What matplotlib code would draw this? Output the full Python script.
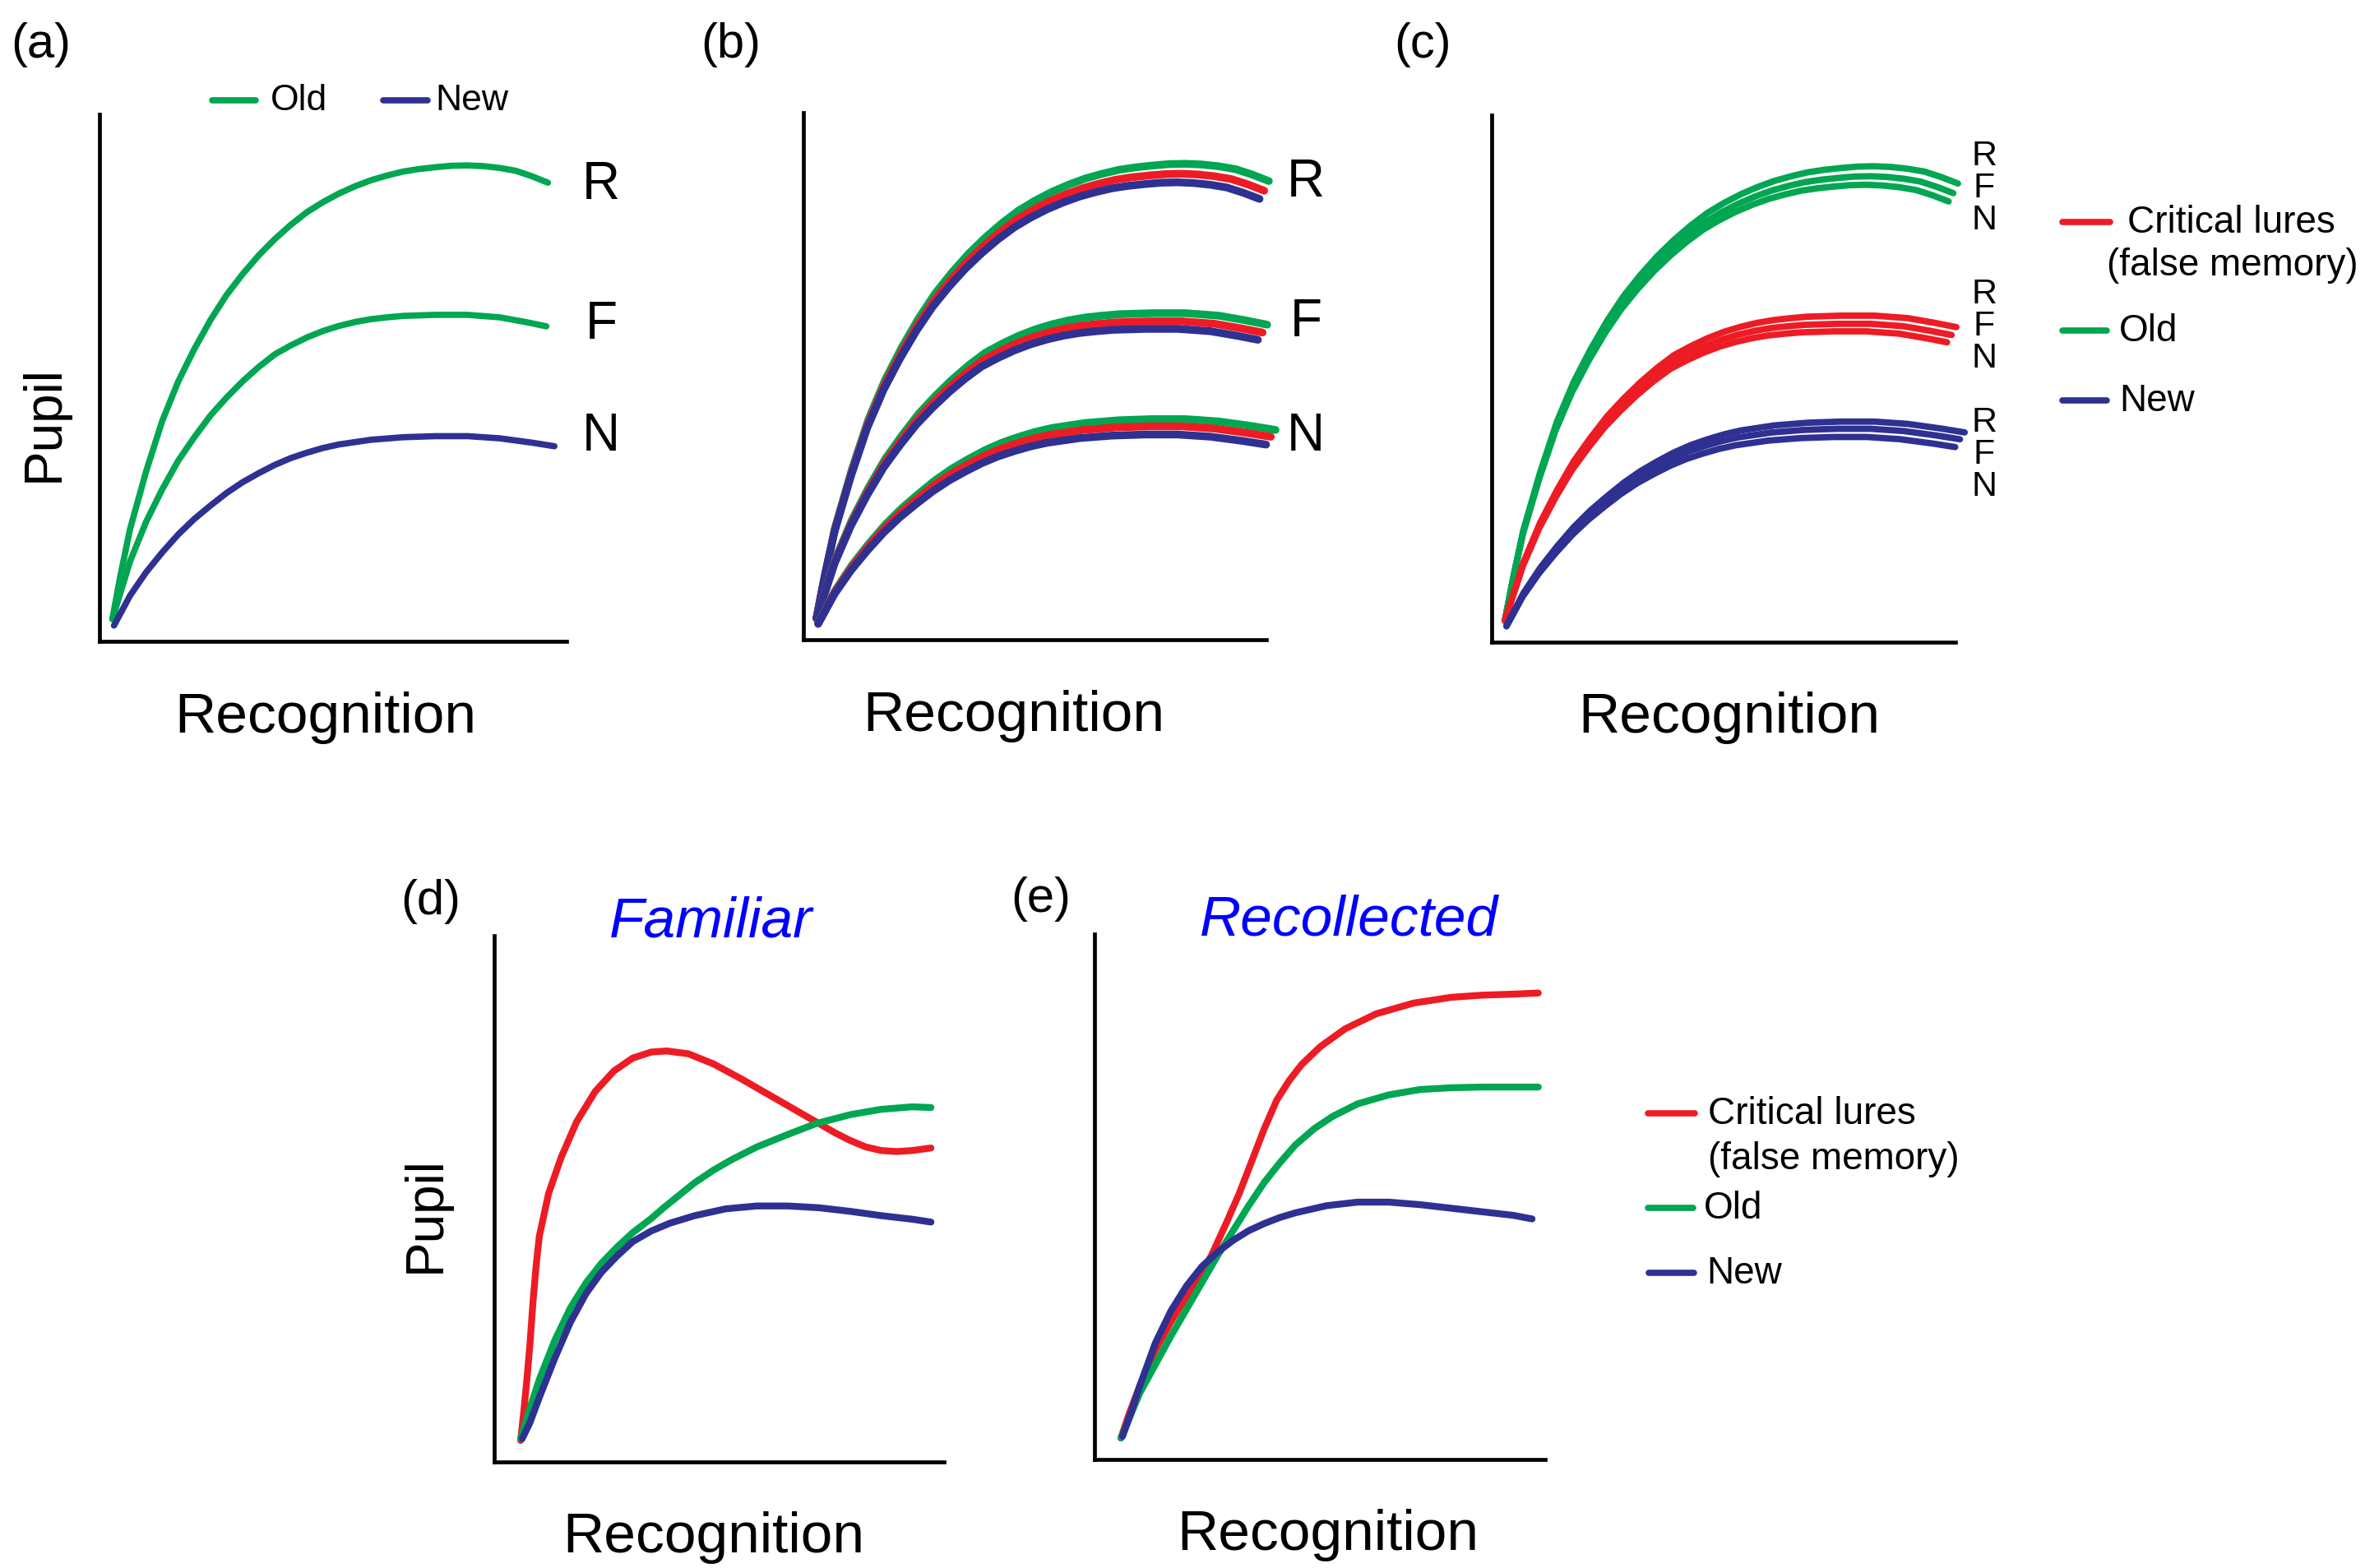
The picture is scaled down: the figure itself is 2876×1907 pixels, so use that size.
import matplotlib.pyplot as plt
from matplotlib.lines import Line2D

plt.rcParams['font.family'] = ['Liberation Sans', 'DejaVu Sans']

W, H = 2876, 1908
GREEN = '#00A651'
RED = '#ED1C24'
BLUE = '#2E3192'

# ---- base curve shapes (recognition 0-100, pupil 0-100)
r_x = [2.75, 4.47, 6.54, 9.98, 13.42, 16.86, 20.3, 23.74, 27.19, 30.63, 34.07, 37.51,
       40.95, 44.39, 47.83, 51.27, 54.71, 58.15, 61.6, 65.04, 68.48, 71.92, 75.36,
       78.8, 82.24, 85.68, 89.12, 92.57, 96.01]
r_y = [4.23, 12.43, 21.31, 32.24, 41.8, 49.32, 55.46, 60.93, 65.71, 69.67, 73.22, 76.3,
       79.03, 81.42, 83.33, 84.97, 86.34, 87.5, 88.39, 89.14, 89.62, 89.96, 90.23,
       90.3, 90.16, 89.82, 89.28, 88.25, 87.02]
f_x = [2.75, 6.54, 9.98, 13.42, 16.86, 20.3, 23.74, 27.19, 30.63, 34.07, 37.51, 40.95,
       44.39, 47.83, 51.27, 54.71, 58.15, 61.6, 65.04, 71.92, 78.8, 85.68, 91.19, 95.67]
f_y = [4.23, 15.16, 22.68, 28.83, 34.29, 38.73, 42.83, 46.24, 49.32, 52.05, 54.44, 56.15,
       57.65, 58.88, 59.84, 60.59, 61.13, 61.48, 61.75, 61.95, 61.95, 61.48, 60.59, 59.77]
n_x = [3.1, 6.54, 9.98, 13.42, 16.86, 20.3, 23.74, 27.19, 30.63, 34.07, 37.51, 40.95,
       44.39, 47.83, 51.27, 58.15, 65.04, 71.92, 78.8, 85.68, 92.57, 97.39]
n_y = [3.0, 8.67, 13.11, 16.87, 20.29, 23.22, 25.75, 28.14, 30.19, 31.9, 33.47, 34.77,
       35.79, 36.68, 37.36, 38.25, 38.73, 38.93, 38.93, 38.52, 37.7, 37.02]

# ---- panels (b) and (c): three near-identical copies per group
# order inside a group: top, middle, bottom line
copy_x_scale = [1.0, 0.99, 0.98]
r_group_scale = [1.0, 0.979, 0.961]
f_group_scale = [1.0, 0.975, 0.952]
n_group_scale = [1.075, 1.04, 1.0]

# ---- panel (d) Familiar
d_lure_x = [5.87, 6.57, 7.26, 7.95, 8.64, 9.33, 10.02, 12.09, 14.86, 18.31, 22.46, 26.61,
            30.75, 34.9, 38.36, 43.19, 48.72, 54.94, 61.85, 68.76, 72.22, 75.67, 79.13,
            82.58, 86.04, 89.5, 92.95, 97.1]
d_lure_y = [4.08, 9.52, 15.65, 22.45, 30.61, 37.41, 42.86, 51.02, 57.82, 64.63, 70.41,
            74.29, 76.73, 77.89, 78.1, 77.55, 75.65, 72.79, 69.39, 65.99, 64.29, 62.59,
            61.09, 59.86, 59.18, 58.98, 59.18, 59.66]
d_old_x = [5.87, 7.95, 10.02, 13.48, 16.93, 20.39, 23.84, 27.3, 30.75, 34.9, 37.66, 41.12,
           44.57, 48.72, 52.87, 58.4, 65.31, 71.53, 79.13, 86.04, 92.95, 97.1]
d_old_y = [4.42, 10.2, 15.65, 23.13, 29.25, 34.01, 37.76, 40.82, 43.54, 46.26, 48.3, 50.68,
           53.06, 55.44, 57.48, 59.86, 62.24, 64.29, 65.99, 67.01, 67.48, 67.35]
d_new_x = [6.22, 7.95, 10.02, 13.48, 16.93, 20.39, 23.84, 27.3, 30.75, 34.9, 39.05, 44.57,
           51.49, 58.4, 65.31, 72.22, 79.13, 86.04, 92.95, 97.1]
d_new_y = [4.42, 7.48, 12.24, 19.73, 26.53, 31.97, 36.05, 39.12, 41.84, 43.88, 45.37, 46.8,
           48.1, 48.64, 48.64, 48.3, 47.62, 46.8, 46.12, 45.58]

# ---- panel (e) Recollected
e_lure_x = [5.87, 7.6, 10.02, 13.48, 16.93, 20.39, 23.84, 25.92, 29.37, 32.14, 34.9, 37.66,
            40.43, 43.19, 45.96, 50.1, 55.63, 62.54, 70.84, 79.13, 86.04, 92.95, 98.48]
e_lure_y = [4.08, 8.5, 13.95, 20.75, 26.19, 30.95, 35.71, 38.78, 45.24, 50.68, 56.8, 62.93,
            68.37, 72.11, 75.17, 78.57, 81.97, 84.83, 86.87, 87.96, 88.37, 88.57, 88.78]
e_old_x = [5.87, 10.02, 13.48, 16.93, 20.39, 23.84, 27.3, 30.75, 34.21, 37.66, 41.12, 44.57,
           48.72, 52.87, 58.4, 65.31, 72.22, 79.13, 86.04, 98.48]
e_old_y = [4.08, 12.59, 18.03, 23.47, 28.57, 33.67, 38.78, 43.54, 48.3, 52.72, 56.46, 59.86,
           62.93, 65.31, 67.69, 69.39, 70.41, 70.75, 70.88, 70.88]
e_new_x = [6.22, 7.95, 10.02, 13.48, 16.93, 20.39, 23.84, 27.3, 30.75, 34.21, 37.66, 41.12,
           44.57, 51.49, 58.4, 65.31, 72.22, 79.13, 86.04, 92.95, 97.1]
e_new_y = [4.42, 8.5, 13.95, 22.11, 28.23, 32.99, 36.73, 39.46, 41.7, 43.54, 44.9, 46.05,
           46.94, 48.3, 48.98, 48.98, 48.5, 47.82, 47.14, 46.46, 45.78]

LW = 6.0
AXLW = 3.4

fig = plt.figure(figsize=(W / 100, H / 100), dpi=100)


def px_axes(left, top, right, bottom, xmax=100):
    ax = fig.add_axes([left / W, 1 - bottom / H, (right - left) / W, (bottom - top) / H])
    ax.set_xlim(0, xmax)
    ax.set_ylim(0, 100)
    for s in ['top', 'right']:
        ax.spines[s].set_visible(False)
    for s in ['left', 'bottom']:
        ax.spines[s].set_linewidth(AXLW)
        ax.spines[s].set_capstyle('projecting')
    ax.set_xticks([])
    ax.set_yticks([])
    ax.patch.set_alpha(0)
    return ax


def curve(ax, x, y, color, lw=LW):
    ax.plot(x, y, color=color, lw=lw, solid_capstyle='round',
            solid_joinstyle='round', clip_on=False)


def ftext(px, py, s, **kw):
    fig.text(px / W, 1 - py / H, s, **kw)


def legend_line(x0, x1, py, color):
    fig.add_artist(Line2D([x0 / W, x1 / W], [1 - py / H] * 2, color=color, lw=5.5,
                          solid_capstyle='round', transform=fig.transFigure))


# panel (a)
ax_a = px_axes(121, 140, 689, 781)
curve(ax_a, r_x, r_y, GREEN, lw=5.5)
curve(ax_a, f_x, f_y, GREEN, lw=5.5)
curve(ax_a, n_x, n_y, BLUE, lw=5.5)

# panel (b)
ax_b = px_axes(977, 138, 1540, 779, xmax=95.5)
for shape_x, shape_y, scales in [(r_x, r_y, r_group_scale), (f_x, f_y, f_group_scale),
                                 (n_x, n_y, n_group_scale)]:
    for xs, ys, col in zip(copy_x_scale, scales, [GREEN, RED, BLUE]):
        curve(ax_b, [v * xs for v in shape_x], [v * ys for v in shape_y], col, lw=6.8)

# panel (c)
ax_c = px_axes(1814, 141, 2378, 782, xmax=95.5)
for shape_x, shape_y, scales, col in [(r_x, r_y, r_group_scale, GREEN),
                                      (f_x, f_y, f_group_scale, RED),
                                      (n_x, n_y, n_group_scale, BLUE)]:
    for xs, ys in zip(copy_x_scale, scales):
        curve(ax_c, [v * xs for v in shape_x], [v * ys for v in shape_y], col, lw=5.6)

# panel (d)
ax_d = px_axes(601, 1139, 1148, 1779)
curve(ax_d, d_lure_x, d_lure_y, RED)
curve(ax_d, d_old_x, d_old_y, GREEN)
curve(ax_d, d_new_x, d_new_y, BLUE)

# panel (e)
ax_e = px_axes(1331, 1137, 1879, 1776)
curve(ax_e, e_lure_x, e_lure_y, RED)
curve(ax_e, e_old_x, e_old_y, GREEN)
curve(ax_e, e_new_x, e_new_y, BLUE)

# panel letters
for px, py, s in [(50, 55, '(a)'), (889, 55, '(b)'), (1730, 55, '(c)'),
                  (524, 1096, '(d)'), (1266, 1094, '(e)')]:
    ftext(px, py, s, fontsize=43, ha='center', va='center')

# axis titles
for px, py in [(396, 891), (1233, 889), (2103, 891), (868, 1888), (1615, 1885)]:
    ftext(px, py, 'Recognition', fontsize=50, ha='center', va='baseline')
for px, py in [(54, 515), (518, 1477)]:
    ftext(px, py, 'Pupil', fontsize=46, ha='center', va='center', rotation=90)

ftext(864, 1139, 'Familiar', fontsize=50, style='italic', color='#0000FF',
      ha='center', va='baseline')
ftext(1640, 1137, 'Recollected', fontsize=50, style='italic', color='#0000FF',
      ha='center', va='baseline')

# R / F / N labels
for px, ys in [(731, [225, 395, 531]), (1588, [222, 392, 531])]:
    for py, s in zip(ys, 'RFN'):
        ftext(px, py, s, fontsize=46, ha='center', va='center')
for py0 in [190, 358, 514]:
    for k, s in enumerate('RFN'):
        ftext(2413, py0 + k * 39, s, fontsize=31, ha='center', va='center')

# legend (a)
legend_line(258, 311, 123, GREEN)
ftext(329, 123, 'Old', fontsize=32, va='center')
legend_line(466, 520, 123, BLUE)
ftext(529, 123, 'New', fontsize=32, va='center')

# legend (c)
legend_line(2508, 2566, 271, RED)
ftext(2587, 271, 'Critical lures', fontsize=33, va='center')
ftext(2562, 323, '(false memory)', fontsize=33, va='center')
legend_line(2508, 2562, 403, GREEN)
ftext(2577, 403, 'Old', fontsize=33, va='center')
legend_line(2508, 2562, 488, BLUE)
ftext(2577, 488, 'New', fontsize=33, va='center')

# legend (e)
legend_line(2004, 2061, 1355, RED)
ftext(2077, 1355, 'Critical lures', fontsize=33, va='center')
ftext(2077, 1410, '(false memory)', fontsize=33, va='center')
legend_line(2004, 2059, 1470, GREEN)
ftext(2072, 1470, 'Old', fontsize=33, va='center')
legend_line(2005, 2060, 1549, BLUE)
ftext(2075, 1549, 'New', fontsize=33, va='center')

fig.savefig('out.png', dpi=100)
